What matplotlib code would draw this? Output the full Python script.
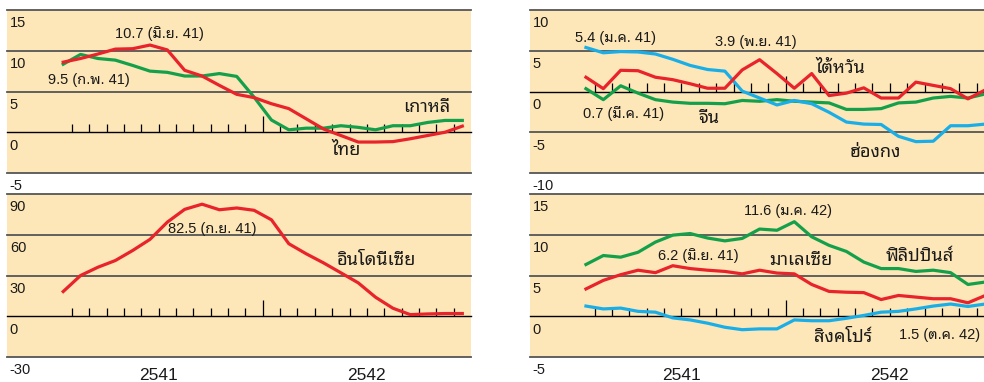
import matplotlib
matplotlib.use("Agg")
import matplotlib.pyplot as plt
from matplotlib.transforms import blended_transform_factory

plt.rcParams["font.family"] = ["Liberation Sans", "Noto Sans Thai Looped", "DejaVu Sans"]
plt.rcParams["text.color"] = "#1a1a1a"

# months Jan 2541 (0) .. Dec 2542 (23)
months = list(range(24))
year_labels = ["2541", "2542"]

thailand = [8.6, 9.05, 9.6, 10.2, 10.25, 10.7, 10.1, 7.6, 6.9, 5.75, 4.65, 4.25,
            3.5, 2.9, 1.65, 0.4, -0.4, -1.2, -1.2, -1.15, -0.8, -0.4, 0.0, 0.75]
korea = [8.35, 9.55, 9.05, 8.85, 8.2, 7.5, 7.35, 6.9, 6.9, 7.2, 6.85, 4.3,
         1.5, 0.3, 0.5, 0.5, 0.8, 0.6, 0.3, 0.8, 0.8, 1.2, 1.45, 1.45]
indonesia = [18.2, 30.0, 36.1, 41.0, 48.4, 56.6, 69.3, 78.7, 82.5, 78.4, 79.7, 78.0,
             71.0, 53.4, 46.0, 39.3, 32.0, 24.6, 14.0, 5.9, 1.2, 1.7, 2.0, 2.0]
hongkong = [5.4, 4.75, 4.9, 4.85, 4.6, 3.95, 3.2, 2.7, 2.5, 0.05, -0.8, -1.65,
            -1.1, -1.5, -2.55, -3.75, -4.0, -4.05, -5.5, -6.15, -6.1, -4.2, -4.2, -4.0]
taiwan = [1.75, 0.35, 2.6, 2.55, 1.75, 1.45, 0.95, 0.4, 0.4, 2.65, 3.9, 2.2,
          0.4, 2.2, -0.5, -0.2, 0.45, -0.8, -0.8, 1.15, 0.75, 0.35, -0.9, 0.2]
china = [0.35, -1.0, 0.7, -0.2, -1.0, -1.3, -1.45, -1.45, -1.5, -1.1, -1.2, -1.0,
         -1.2, -1.3, -1.4, -2.2, -2.2, -2.1, -1.4, -1.3, -0.8, -0.6, -0.8, -0.3]
philippines = [6.35, 7.45, 7.25, 7.85, 9.1, 9.95, 10.15, 9.6, 9.25, 9.55, 10.7, 10.55,
               11.6, 9.75, 8.7, 7.95, 6.65, 5.85, 5.85, 5.5, 5.65, 5.35, 3.9, 4.2]
malaysia = [3.35, 4.4, 5.1, 5.65, 5.35, 6.2, 5.85, 5.65, 5.5, 5.2, 5.65, 5.3,
            5.2, 3.9, 3.05, 2.95, 2.9, 2.05, 2.55, 2.35, 2.15, 2.15, 1.65, 2.55]
singapore = [1.25, 0.9, 1.0, 0.6, 0.5, -0.2, -0.45, -0.85, -1.35, -1.65, -1.55, -1.55,
             -0.45, -0.55, -0.55, -0.25, 0.1, 0.5, 0.6, 0.9, 1.25, 1.5, 1.2, 1.5]

RED = "#e8232b"
GREEN = "#14a04a"
BLUE = "#1aaee8"
BG = "#fde6b7"

W, H = 984, 382
fig = plt.figure(figsize=(W / 100, H / 100), dpi=100)


def panel(x0, y0, x1, y1, ylim, step):
    ax = fig.add_axes([x0 / W, 1 - y1 / H, (x1 - x0) / W, (y1 - y0) / H])
    ax.set_facecolor(BG)
    ax.set_xlim(-3.24, 23.5)
    ax.set_ylim(*ylim)
    for s in ax.spines.values():
        s.set_visible(False)
    ax.set_xticks([]); ax.set_yticks([])
    lo, hi = ylim
    v = lo
    while v <= hi + 1e-9:
        ax.axhline(v, color="black" if v == 0 else "#555555",
                   lw=1.0 if v == 0 else 1.3, zorder=1, clip_on=False)
        ax.annotate(f"{v:g}", xy=(0, v), xycoords=("axes fraction", "data"),
                    xytext=(2, -4.5), textcoords="offset points",
                    ha="left", va="top", fontsize=10.5, annotation_clip=False)
        v += step
    # month ticks on the zero line
    z = (0 - lo) / (hi - lo)
    tr = blended_transform_factory(ax.transData, ax.transAxes)
    for k in range(23):
        h = 16 if k == 11 else 8
        ax.plot([k + 0.5, k + 0.5], [z, z + h / (y1 - y0)], color="black",
                lw=0.9, transform=tr, zorder=2, solid_capstyle="butt")
    return ax


def note(ax, x, y, s, size=10.5):
    ax.text(x, y, s, fontsize=size, ha="left", va="center", zorder=4)


# top-left: Thailand / Korea
a1 = panel(7, 10, 471, 173, (-5, 15), 5)
a1.plot(months, korea, color=GREEN, lw=2.3, zorder=3)
a1.plot(months, thailand, color=RED, lw=2.3, zorder=3)
note(a1, 2.98, 12.1, "10.7 (มิ.ย. 41)")
note(a1, -0.86, 6.47, "9.5 (ก.พ. 41)")
note(a1, 19.58, 3.0, "เกาหลี", 13)
note(a1, 15.48, -2.25, "ไทย", 13)

# bottom-left: Indonesia
a2 = panel(7, 194, 471, 357, (-30, 90), 30)
a2.plot(months, indonesia, color=RED, lw=2.3, zorder=3)
note(a2, 6.06, 64.4, "82.5 (ก.ย. 41)")
note(a2, 15.77, 41, "อินโดนีเซีย", 13)

# top-right: Hong Kong / Taiwan / China
a3 = panel(529.7, 10, 994, 173, (-10, 10), 5)
a3.plot(months, china, color=GREEN, lw=2.3, zorder=3)
a3.plot(months, hongkong, color=BLUE, lw=2.3, zorder=3)
a3.plot(months, taiwan, color=RED, lw=2.3, zorder=3)
note(a3, -0.61, 6.57, "5.4 (ม.ค. 41)")
note(a3, 7.46, 6.03, "3.9 (พ.ย. 41)")
note(a3, 13.23, 2.78, "ไต้หวัน", 13)
note(a3, -0.17, -2.73, "0.7 (มี.ค. 41)")
note(a3, 6.5, -3.34, "จีน", 13)
note(a3, 15.2, -7.43, "ฮ่องกง", 13)

# bottom-right: Philippines / Malaysia / Singapore
a4 = panel(529.7, 194, 994, 357, (-5, 15), 5)
a4.plot(months, philippines, color=GREEN, lw=2.3, zorder=3)
a4.plot(months, malaysia, color=RED, lw=2.3, zorder=3)
a4.plot(months, singapore, color=BLUE, lw=2.3, zorder=3)
note(a4, 9.1, 12.9, "11.6 (ม.ค. 42)")
note(a4, 4.15, 7.48, "6.2 (มิ.ย. 41)")
note(a4, 10.54, 6.87, "มาเลเซีย", 13)
note(a4, 17.27, 7.28, "ฟิลิปปินส์", 13)
note(a4, 13.13, -2.59, "สิงคโปร์", 13)
note(a4, 18.03, -2.26, "1.5 (ต.ค. 42)")

for ax in (a2, a4):
    for x, s in zip([5.5, 17.5], year_labels):
        ax.annotate(s, xy=(x, 2.5), xycoords=("data", "figure pixels"),
                    ha="center", va="baseline", fontsize=12.5,
                    annotation_clip=False)

fig.savefig("out.png", dpi=100)
